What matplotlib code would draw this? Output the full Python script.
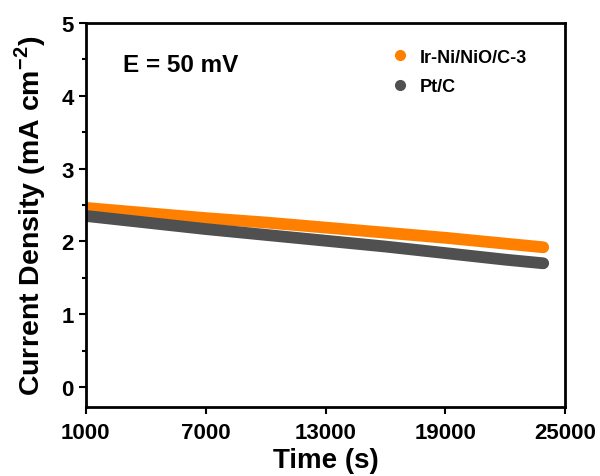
import matplotlib
matplotlib.use('Agg')
import matplotlib.pyplot as plt
from matplotlib.ticker import MultipleLocator

# 数据
time_s = [1000, 4000, 7000, 10000, 13000, 16000, 19000, 22000, 23900]
ir_ni = [2.46, 2.39, 2.32, 2.26, 2.19, 2.12, 2.05, 1.97, 1.92]
pt_c = [2.35, 2.26, 2.17, 2.09, 2.01, 1.93, 1.84, 1.75, 1.70]

x_ticks = [1000, 7000, 13000, 19000, 25000]
y_ticks = [0, 1, 2, 3, 4, 5]

plt.rcParams['font.family'] = ['Liberation Sans', 'DejaVu Sans']
plt.rcParams['font.weight'] = 'bold'
plt.rcParams['mathtext.fontset'] = 'custom'
plt.rcParams['mathtext.rm'] = 'Liberation Sans:bold'
plt.rcParams['mathtext.bf'] = 'Liberation Sans:bold'

fig = plt.figure(figsize=(6, 4.77), dpi=100, facecolor='white')
ax = fig.add_axes([0.143, 0.145, 0.799, 0.805])

ax.plot(time_s, ir_ni, '-', color='#FF8000', linewidth=8.5, solid_capstyle='round')
ax.plot(time_s, pt_c, '-', color='#505050', linewidth=8.5, solid_capstyle='round')

# 图例（圆点）
ax.plot([], [], 'o', color='#FF8000', markersize=7, label='Ir-Ni/NiO/C-3')
ax.plot([], [], 'o', color='#505050', markersize=7, label='Pt/C')
ax.legend(loc='upper right', frameon=False, fontsize=13, handletextpad=0.6,
          handlelength=1.0, labelspacing=0.7, bbox_to_anchor=(0.955, 0.975))

ax.text(0.078, 0.875, 'E = 50 mV', transform=ax.transAxes, fontsize=17.5, fontweight='bold')

ax.set_xlim(1000, 25000)
ax.set_ylim(-0.27, 5)
ax.set_xticks(x_ticks)
ax.set_yticks(y_ticks)
ax.yaxis.set_minor_locator(MultipleLocator(0.5))

ax.tick_params(axis='both', which='major', direction='out', length=5, width=1.5,
               labelsize=16)
ax.tick_params(axis='x', which='major', pad=6)
ax.tick_params(axis='y', which='minor', direction='out', length=3, width=1.5)
for lab in ax.get_xticklabels() + ax.get_yticklabels():
    lab.set_fontweight('bold')
for sp in ax.spines.values():
    sp.set_linewidth(2)

ax.set_xlabel('Time (s)', fontsize=20, fontweight='bold', labelpad=3)
ax.set_ylabel(r'Current Density (mA cm$^{\mathbf{-2}}$)', fontsize=20.5,
              fontweight='bold', labelpad=10)

plt.savefig('out.png', dpi=100, facecolor='white')
